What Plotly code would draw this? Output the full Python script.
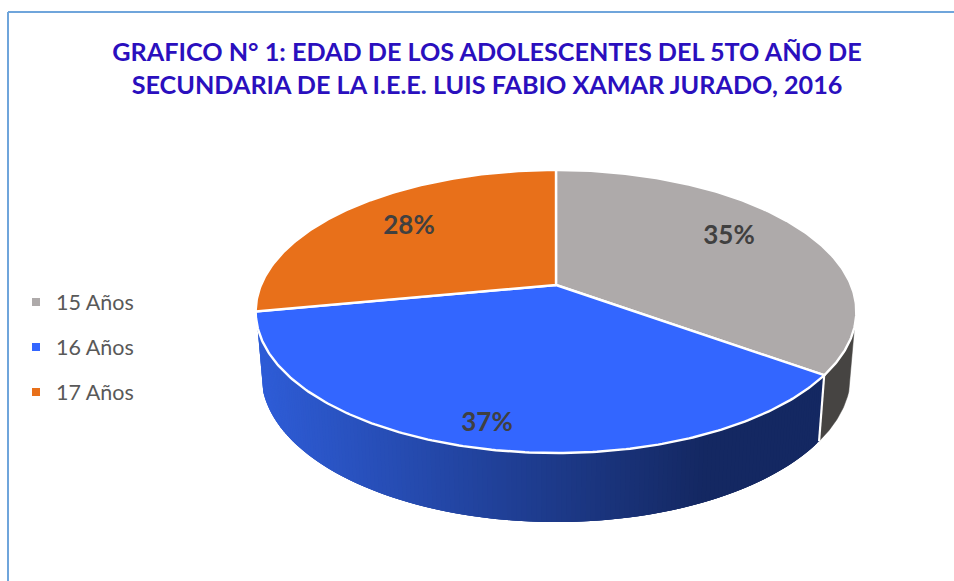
import math
import plotly.graph_objects as go

# ---- data ----
categories = ["15 Años", "16 Años", "17 Años"]
values = [35, 37, 28]
top_colors = ["#AEAAAA", "#3366FF", "#E8701A"]
title_lines = ["GRAFICO N° 1: EDAD DE LOS ADOLESCENTES DEL 5TO AÑO DE",
               "SECUNDARIA DE LA I.E.E. LUIS FABIO XAMAR JURADO, 2016"]

# ---- projection of the pie disc to the canvas (layout only) ----
W, H = 954, 581
CX, CY = 556, 285          # apex on canvas
R = 295
K = 0.1873
Q = -83.2
LABEL_POS = [(729, 237), (487, 424), (409, 227)]
WALL_START, WALL_END = 107, 253   # where the side wall emerges from behind the disc


def top(theta_deg):
    t = math.radians(theta_deg)
    X, Y = math.sin(t), math.cos(t)
    w = 1 + K * Y
    return CX + R * X / w, (CY + Q * Y) / w


def bottom(theta_deg):
    x, y = top(theta_deg)
    return CX + (x - CX) * 0.981, 51.8 + 1.038 * y


def mix(a, b, f):
    f = max(0.0, min(1.0, f))
    return tuple(round(a[i] + (b[i] - a[i]) * f) for i in range(3))


def poly(points, fill, line_color, width):
    fig.add_trace(go.Scatter(x=[q[0] for q in points], y=[q[1] for q in points], mode="lines",
                             fill="toself" if fill else None, fillcolor=fill,
                             line=dict(color=line_color, width=width),
                             hoverinfo="skip", showlegend=False))


fig = go.Figure()

# slice boundaries, clockwise from 12 o'clock
total = sum(values)
edges = [0.0]
for v in values:
    edges.append(edges[-1] + v / total * 360)

# gray wall: flat dark colour
n = 30
angles = [WALL_START + (edges[1] - WALL_START) * k / n for k in range(n + 1)]
poly([top(a) for a in angles] + [bottom(a) for a in reversed(angles)] + [top(angles[0])],
     "rgb(70,68,66)", "rgb(70,68,66)", 0.5)

# blue wall: left-to-right gradient built of overlapping strips (painted right to left)
a0, a1 = edges[1], min(edges[2], WALL_END)
n = 160
step = (a1 - a0) / n
for k in range(n):
    t0 = a0 + step * k
    xm = top(t0 + step / 2)[0]
    c = mix((46, 92, 214), (20, 40, 98), (xm - 262) / (705 - 262))
    arc = [t0 + step * j for j in range(4) if t0 + step * j <= a1 + 1e-9]
    if len(arc) < 2:
        arc = [t0, a1]
    col = f"rgb{c}"
    poly([top(a) for a in arc] + [bottom(a) for a in reversed(arc)] + [top(arc[0])], col, col, 0)

# white vertical seam between gray and blue walls
poly([top(edges[1]), bottom(edges[1])], None, "white", 2.2)

# top face
for i in range(3):
    a0, a1 = edges[i], edges[i + 1]
    n = int((a1 - a0) * 1.5)
    arc = [top(a0 + (a1 - a0) * k / n) for k in range(n + 1)]
    poly([(CX, CY)] + arc + [(CX, CY)], top_colors[i], "white", 2.4)

# data labels
fig.add_trace(go.Scatter(x=[p[0] for p in LABEL_POS], y=[p[1] for p in LABEL_POS], mode="text",
                         text=[f"{v}%" for v in values],
                         textfont=dict(family="Lato", size=26, color="#404040", weight="bold"),
                         textposition="middle center", hoverinfo="skip", showlegend=False))

# legend entries
for name, col in zip(categories, top_colors):
    fig.add_trace(go.Scatter(x=[None], y=[None], mode="markers", name=name, legendgroup=name,
                             marker=dict(symbol="square", size=8, color=col)))

fig.update_layout(
    width=W, height=H,
    margin=dict(l=0, r=0, t=0, b=0),
    paper_bgcolor="white", plot_bgcolor="white",
    xaxis=dict(range=[0, W], visible=False, fixedrange=True),
    yaxis=dict(range=[H, 0], visible=False, fixedrange=True),
    title=dict(text="<br>".join(title_lines), x=487 / W, xanchor="center",
               y=1 - 61 / H, yanchor="middle",
               font=dict(family="Lato", size=25.2, color="#2A0FBE", weight="bold")),
    legend=dict(x=16 / W, xanchor="left", y=1 - 347 / H, yanchor="middle",
                font=dict(family="Lato", size=21.5, color="#595959"),
                tracegroupgap=14, itemsizing="trace", bgcolor="rgba(0,0,0,0)"),
    shapes=[dict(type="line", xref="x", yref="y", x0=8, x1=8, y0=12, y1=H,
                 line=dict(color="#6FA5DB", width=2)),
            dict(type="line", xref="x", yref="y", x0=8, x1=W, y0=12, y1=12,
                 line=dict(color="#6FA5DB", width=2))],
)

fig.write_html("out.html", post_script="document.body.style.margin='0';", config={"displayModeBar": False})
